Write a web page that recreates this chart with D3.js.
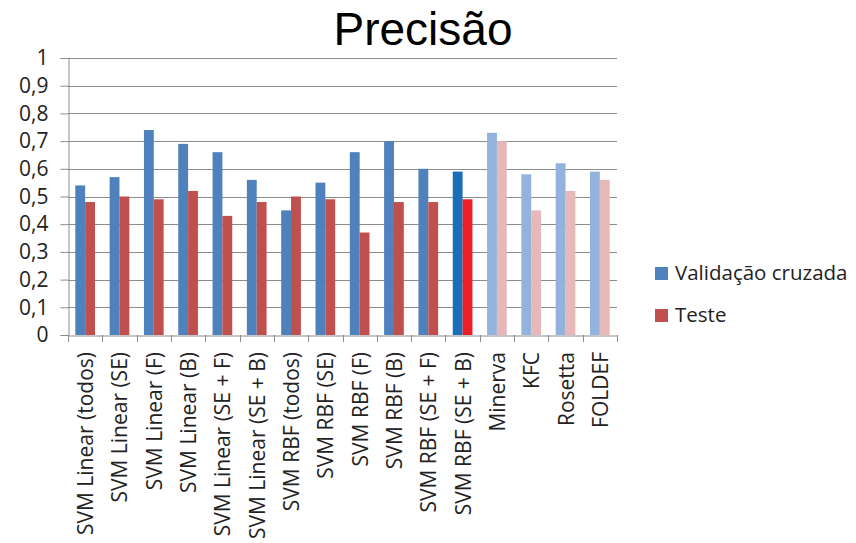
<!DOCTYPE html>
<html>
<head>
<meta charset="utf-8">
<script src="https://cdn.jsdelivr.net/npm/d3@7"></script>
<style>
  html, body { margin: 0; padding: 0; background: #fff; }
  svg { display: block; }
</style>
</head>
<body>
<svg id="chart" width="856" height="543"></svg>
<script>
// Precision per model: cross-validation vs. test
const categories = [
  "SVM Linear (todos)", "SVM Linear (SE)", "SVM Linear (F)", "SVM Linear (B)",
  "SVM Linear (SE + F)", "SVM Linear (SE + B)", "SVM RBF (todos)", "SVM RBF (SE)",
  "SVM RBF (F)", "SVM RBF (B)", "SVM RBF (SE + F)", "SVM RBF (SE + B)",
  "Minerva", "KFC", "Rosetta", "FOLDEF"
];
const validacao = [0.54, 0.57, 0.74, 0.69, 0.66, 0.56, 0.45, 0.55, 0.66, 0.70, 0.60, 0.59, 0.73, 0.58, 0.62, 0.59];
const teste     = [0.48, 0.50, 0.49, 0.52, 0.43, 0.48, 0.50, 0.49, 0.37, 0.48, 0.48, 0.49, 0.70, 0.45, 0.52, 0.56];
const yTicks = [0, 0.1, 0.2, 0.3, 0.4, 0.5, 0.6, 0.7, 0.8, 0.9, 1];
const seriesNames = ["Validação cruzada", "Teste"];

// colour of each bar: standard, highlighted (selected model), or external tools (faded)
function barColor(i, s) {
  if (i === 11) return s === 0 ? "#1B6FB9" : "#EC1E28";
  if (i >= 12) return s === 0 ? "#93B3DD" : "#E6B8B7";
  return s === 0 ? "#4F81BD" : "#C0504D";
}

const svg = d3.select("#chart");
const m = { left: 68, right: 617, top: 58, bottom: 335 };
const font = "'Open Sans', 'Liberation Sans', sans-serif";

const x = d3.scaleBand().domain(categories).range([m.left, m.right]).padding(0);
const y = d3.scaleLinear().domain([0, 1]).range([m.bottom, m.top]);
const barW = x.bandwidth() * 0.287;

// title
svg.append("text")
  .attr("x", 423).attr("y", 45)
  .attr("text-anchor", "middle")
  .attr("font-family", "'Liberation Sans', Arial, sans-serif")
  .attr("font-size", 46)
  .attr("fill", "#000")
  .text("Precisão");

// horizontal gridlines
svg.append("g")
  .selectAll("line")
  .data(yTicks.filter(d => d > 0))
  .join("line")
  .attr("x1", m.left).attr("x2", m.right)
  .attr("y1", d => Math.round(y(d)) + 0.5).attr("y2", d => Math.round(y(d)) + 0.5)
  .attr("stroke", "#8c8c8c").attr("stroke-width", 1);

// y axis
const yAxis = svg.append("g")
  .attr("transform", `translate(${m.left + 0.5},0)`)
  .call(d3.axisLeft(y).tickValues(yTicks).tickSize(8).tickPadding(12)
    .tickFormat(d => d3.format("~g")(d).replace(".", ",")));
yAxis.select(".domain").attr("stroke", "#8c8c8c");
yAxis.selectAll(".tick line").attr("stroke", "#8c8c8c");
yAxis.selectAll(".tick text")
  .attr("font-family", font).attr("font-size", 21).attr("fill", "#222");

// bars
const groups = svg.append("g")
  .selectAll("g")
  .data(categories.map((c, i) => ({ c, i, vals: [validacao[i], teste[i]] })))
  .join("g")
  .attr("transform", d => `translate(${x(d.c) + x.bandwidth() / 2},0)`);

groups.selectAll("rect")
  .data(d => d.vals.map((v, s) => ({ v, s, i: d.i })))
  .join("rect")
  .attr("x", d => d.s === 0 ? -barW : 0)
  .attr("width", barW)
  .attr("y", d => y(d.v))
  .attr("height", d => y(0) - y(d.v))
  .attr("fill", d => barColor(d.i, d.s));

// x axis
const xAxis = svg.append("g")
  .attr("transform", `translate(0,${m.bottom + 0.5})`)
  .call(d3.axisBottom(x).tickSize(0).tickFormat(""));
xAxis.select(".domain").attr("stroke", "#8c8c8c");

// category boundary ticks
svg.append("g")
  .selectAll("line")
  .data(d3.range(categories.length + 1))
  .join("line")
  .attr("x1", i => Math.round(m.left + i * x.bandwidth()) + 0.5)
  .attr("x2", i => Math.round(m.left + i * x.bandwidth()) + 0.5)
  .attr("y1", m.bottom).attr("y2", m.bottom + 7)
  .attr("stroke", "#8c8c8c");

// rotated category labels
svg.append("g")
  .selectAll("text")
  .data(categories)
  .join("text")
  .attr("transform", d => `translate(${x(d) + x.bandwidth() / 2 + 8},${m.bottom + 17}) rotate(-90)`)
  .attr("text-anchor", "end")
  .attr("font-family", font).attr("font-size", 21).attr("fill", "#222")
  .text(d => d);

// legend
const legend = svg.append("g")
  .selectAll("g")
  .data(seriesNames)
  .join("g")
  .attr("transform", (d, i) => `translate(655,${267 + i * 42})`);
legend.append("rect")
  .attr("width", 13).attr("height", 13)
  .attr("fill", (d, i) => i === 0 ? "#4F81BD" : "#C0504D");
legend.append("text")
  .attr("x", 20).attr("y", 13)
  .attr("font-family", font).attr("font-size", 20.5).attr("fill", "#222")
  .text(d => d);
</script>
</body>
</html>
